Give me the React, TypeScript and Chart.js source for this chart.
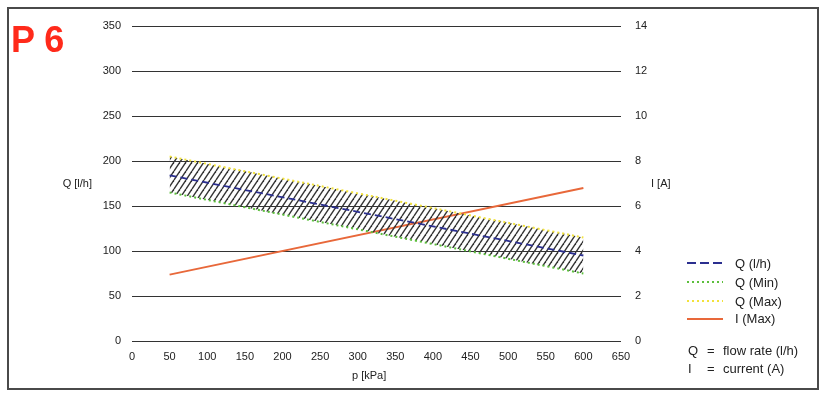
import React, { useEffect, useRef } from "react";
import { Chart, registerables } from "chart.js";

Chart.register(...registerables);

// Data
const pressure = [50, 600]; // p [kPa]
const qNominal = [184, 95]; // Q (l/h)
const qMin = [165, 75]; // Q (Min)
const qMax = [205, 115]; // Q (Max)
const iMax = [2.95, 6.8]; // I (Max) [A]

const xRange = { min: 0, max: 650, step: 50 };
const qRange = { min: 0, max: 350, step: 50 };
const iRange = { min: 0, max: 14, step: 2 };

const legendLabels = ["Q (l/h)", "Q (Min)", "Q (Max)", "I (Max)"];
const noteSymbols = ["Q", "I"];
const noteTexts = ["flow rate (l/h)", "current (A)"];

const COLORS = {
  nominal: "#2b2f8f",
  min: "#5cbf3c",
  max: "#f2e23a",
  current: "#e8683a",
  grid: "#333333",
  text: "#222222",
  hatch: "#333333",
};

const FONT = "'Liberation Sans', Arial, sans-serif";

function toPoints(xs: number[], ys: number[]) {
  return xs.map((x, i) => ({ x, y: ys[i] }));
}

function makeHatch(): CanvasPattern | string {
  const w = 6;
  const h = 9;
  const c = document.createElement("canvas");
  c.width = w;
  c.height = h;
  const g = c.getContext("2d");
  if (!g) return "rgba(0,0,0,0.3)";
  g.strokeStyle = COLORS.hatch;
  g.lineWidth = 1.4;
  for (const k of [-1, 0, 1]) {
    g.beginPath();
    g.moveTo(k * w, h);
    g.lineTo(k * w + w, 0);
    g.stroke();
  }
  const p = g.createPattern(c, "repeat");
  return p || "rgba(0,0,0,0.3)";
}

const abs = (left: number, top: number, extra: React.CSSProperties = {}): React.CSSProperties => ({
  position: "absolute",
  left,
  top,
  whiteSpace: "nowrap",
  fontFamily: FONT,
  color: COLORS.text,
  ...extra,
});

export default function App() {
  const ref = useRef<HTMLCanvasElement | null>(null);

  useEffect(() => {
    if (!ref.current) return;
    const hatch = makeHatch();
    const chart = new Chart(ref.current, {
      type: "line",
      data: {
        datasets: [
          {
            label: legendLabels[0],
            data: toPoints(pressure, qNominal),
            borderColor: COLORS.nominal,
            borderWidth: 1.8,
            borderDash: [7, 4],
            pointRadius: 0,
            fill: false,
            yAxisID: "y",
          },
          {
            label: legendLabels[1],
            data: toPoints(pressure, qMin),
            borderColor: COLORS.min,
            borderWidth: 2,
            borderDash: [2, 3],
            pointRadius: 0,
            fill: false,
            yAxisID: "y",
          },
          {
            label: legendLabels[2],
            data: toPoints(pressure, qMax),
            borderColor: COLORS.max,
            borderWidth: 2,
            borderDash: [2, 3],
            pointRadius: 0,
            fill: 1,
            backgroundColor: hatch as any,
            yAxisID: "y",
          },
          {
            label: legendLabels[3],
            data: toPoints(pressure, iMax),
            borderColor: COLORS.current,
            borderWidth: 2,
            pointRadius: 0,
            fill: false,
            yAxisID: "y1",
          },
        ],
      },
      options: {
        animation: false,
        responsive: false,
        layout: { padding: { top: 26, left: 0, right: 0, bottom: 0 } },
        plugins: {
          legend: { display: false },
          tooltip: { enabled: false },
        },
        scales: {
          x: {
            type: "linear",
            min: xRange.min,
            max: xRange.max,
            grid: { display: false, drawTicks: false },
            border: { display: false },
            ticks: {
              stepSize: xRange.step,
              padding: 9,
              color: COLORS.text,
              font: { family: FONT, size: 11 },
              maxRotation: 0,
            },
            afterFit: (s: any) => {
              s.height = 56;
            },
          },
          y: {
            type: "linear",
            position: "left",
            min: qRange.min,
            max: qRange.max,
            grid: { color: COLORS.grid, lineWidth: 1, drawTicks: false },
            border: { display: false },
            ticks: {
              stepSize: qRange.step,
              padding: 11,
              color: COLORS.text,
              font: { family: FONT, size: 11 },
            },
            afterFit: (s: any) => {
              s.width = 132;
            },
          },
          y1: {
            type: "linear",
            position: "right",
            min: iRange.min,
            max: iRange.max,
            grid: { display: false, drawTicks: false },
            border: { display: false },
            ticks: {
              stepSize: iRange.step,
              padding: 14,
              color: COLORS.text,
              font: { family: FONT, size: 11 },
            },
            afterFit: (s: any) => {
              s.width = 204;
            },
          },
        },
      },
    });
    return () => chart.destroy();
  }, []);

  const rowCenters = [263.3, 282.3, 301, 318.7];
  const sampleBg = [
    `repeating-linear-gradient(to right, ${COLORS.nominal} 0 9px, transparent 9px 13px)`,
    `repeating-linear-gradient(to right, ${COLORS.min} 0 2px, transparent 2px 5px)`,
    `repeating-linear-gradient(to right, ${COLORS.max} 0 2px, transparent 2px 5px)`,
    COLORS.current,
  ];

  return (
    <div style={{ position: "absolute", left: 0, top: 0, width: 825, height: 397, background: "#fff" }}>
      <canvas ref={ref} width={825} height={397} style={{ position: "absolute", left: 0, top: 0, display: "block" }} />
      <div
        style={{
          position: "absolute",
          left: 7,
          top: 7,
          width: 812,
          height: 383,
          boxSizing: "border-box",
          border: "2px solid #4a4a4a",
          pointerEvents: "none",
        }}
      />
      <div style={abs(11, 22, { fontSize: 36, lineHeight: "36px", fontWeight: "bold", color: "#ff2a1a" })}>P 6</div>
      <div style={abs(62.7, 177.6, { fontSize: 11, lineHeight: "11px" })}>Q [l/h]</div>
      <div style={abs(651, 177.6, { fontSize: 11, lineHeight: "11px" })}>I [A]</div>
      <div style={abs(352, 369.6, { fontSize: 11, lineHeight: "11px" })}>p [kPa]</div>
      {legendLabels.map((label, i) => (
        <React.Fragment key={label}>
          <div
            style={{
              position: "absolute",
              left: 687,
              top: rowCenters[i] - 1,
              width: 36,
              height: 2,
              background: sampleBg[i],
            }}
          />
          <div style={abs(735, rowCenters[i] - 6.3, { fontSize: 13, lineHeight: "13px" })}>{label}</div>
        </React.Fragment>
      ))}
      {noteSymbols.map((sym, i) => {
        const top = [350, 368][i] - 6.3;
        return (
          <React.Fragment key={sym}>
            <div style={abs(688, top, { fontSize: 13, lineHeight: "13px" })}>{sym}</div>
            <div style={abs(707, top, { fontSize: 13, lineHeight: "13px" })}>=</div>
            <div style={abs(723, top, { fontSize: 13, lineHeight: "13px" })}>{noteTexts[i]}</div>
          </React.Fragment>
        );
      })}
    </div>
  );
}
